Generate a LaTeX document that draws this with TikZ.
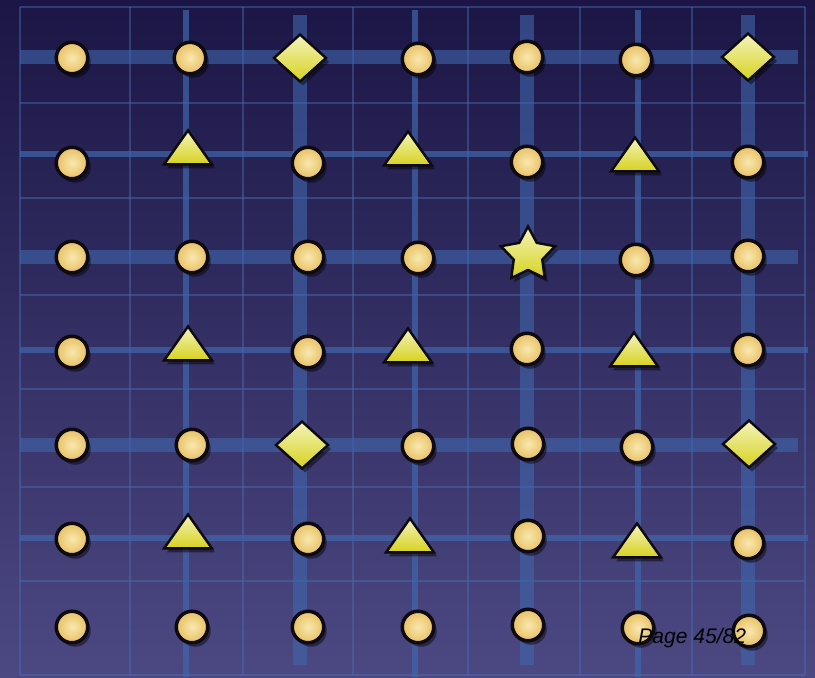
\documentclass[tikz,border=0pt]{standalone}
\usepackage{fontspec}
\newfontfamily\pagefont{Liberation Sans}
\usetikzlibrary{shapes.geometric, shadows}
\usepackage{xcolor}
\definecolor{BoardTop}{HTML}{1B1645}
\definecolor{BoardMid}{HTML}{2F2A62}
\definecolor{BoardBottom}{HTML}{4C4882}
\definecolor{GridBlue}{HTML}{4A6EB4}
\definecolor{BandBlue}{HTML}{4066AC}
\definecolor{DotLight}{HTML}{F8E8B0}
\definecolor{DotDark}{HTML}{E8C062}
\definecolor{GemLight}{HTML}{F4F4BC}
\definecolor{GemDark}{HTML}{D6D21E}
\definecolor{MarkEdge}{HTML}{0E0A10}
\tikzset{
    % Board line styles
    gridline/.style={
        draw=GridBlue,
        line width=0.7pt,
        opacity=0.45
    },
    midline/.style={
        draw=BandBlue,
        line width=0.12cm,
        opacity=0.7
    },
    bandline/.style={
        draw=BandBlue,
        line width=0.28cm,
        opacity=0.6
    },
    % Marker styles
    dotmark/.style={
        circle,
        draw=MarkEdge,
        line width=2pt,
        inner color=DotLight,
        outer color=DotDark,
        minimum size=0.63cm,
        inner sep=0pt,
        drop shadow={shadow xshift=0.06cm, shadow yshift=-0.08cm, opacity=0.45, fill=black}
    },
    gemmark/.style={
        diamond,
        draw=MarkEdge,
        line width=1.4pt,
        top color=GemLight,
        bottom color=GemDark,
        minimum width=1.06cm,
        minimum height=0.96cm,
        inner sep=0pt,
        drop shadow={shadow xshift=0.06cm, shadow yshift=-0.08cm, opacity=0.45, fill=black}
    },
    trimark/.style={
        isosceles triangle,
        shape border rotate=90,
        isosceles triangle stretches,
        draw=MarkEdge,
        line width=1.4pt,
        top color=GemLight,
        bottom color=GemDark,
        minimum width=0.96cm,
        minimum height=0.68cm,
        inner sep=0pt,
        drop shadow={shadow xshift=0.06cm, shadow yshift=-0.08cm, opacity=0.45, fill=black}
    },
    starmark/.style={
        star,
        star points=5,
        star point ratio=1.9,
        draw=MarkEdge,
        line width=1.4pt,
        top color=GemLight,
        bottom color=GemDark,
        minimum size=1.14cm,
        inner sep=0pt,
        drop shadow={shadow xshift=0.06cm, shadow yshift=-0.08cm, opacity=0.45, fill=black}
    }
}
\begin{document}
\begin{tikzpicture}[x=0.02cm, y=-0.02cm]
    \useasboundingbox (0,0) rectangle (815,677);
    \shade[top color=BoardTop, middle color=BoardMid, bottom color=BoardBottom] (0,0) rectangle (815,677);

    \draw[gridline] (20,7) -- (805,7);
    \draw[gridline] (20,103) -- (805,103);
    \draw[gridline] (20,198) -- (805,198);
    \draw[gridline] (20,295) -- (805,295);
    \draw[gridline] (20,389) -- (805,389);
    \draw[gridline] (20,487) -- (805,487);
    \draw[gridline] (20,581) -- (805,581);
    \draw[gridline] (20,675) -- (805,675);
    \draw[gridline] (20,7) -- (20,675);
    \draw[gridline] (130,7) -- (130,675);
    \draw[gridline] (243,7) -- (243,675);
    \draw[gridline] (353,7) -- (353,675);
    \draw[gridline] (468,7) -- (468,675);
    \draw[gridline] (580,7) -- (580,675);
    \draw[gridline] (692,7) -- (692,675);
    \draw[gridline] (805,7) -- (805,675);

    \draw[bandline] (20,57) -- (798,57);
    \draw[bandline] (20,257) -- (798,257);
    \draw[bandline] (20,445) -- (798,445);
    \draw[bandline] (300,15) -- (300,665);
    \draw[bandline] (527,15) -- (527,665);
    \draw[bandline] (748,15) -- (748,665);

    \draw[midline] (20,154) -- (808,154);
    \draw[midline] (20,350) -- (808,350);
    \draw[midline] (20,538) -- (808,538);
    \draw[midline] (186,10) -- (186,677);
    \draw[midline] (415,10) -- (415,677);
    \draw[midline] (638,10) -- (638,677);

    \node[dotmark] (dot11) at (72,58) {};
    \node[dotmark] (dot12) at (190,58) {};
    \node[gemmark] (gem13) at (300,58) {};
    \node[dotmark] (dot14) at (418,59) {};
    \node[dotmark] (dot15) at (527,57) {};
    \node[dotmark] (dot16) at (636,60) {};
    \node[gemmark] (gem17) at (748,57) {};

    \node[dotmark] (dot21) at (72,163) {};
    \node[trimark] (tri22) at (188,152) {};
    \node[dotmark] (dot23) at (308,163) {};
    \node[trimark] (tri24) at (408,153) {};
    \node[dotmark] (dot25) at (527,162) {};
    \node[trimark] (tri26) at (635,159) {};
    \node[dotmark] (dot27) at (748,162) {};

    \node[dotmark] (dot31) at (72,257) {};
    \node[dotmark] (dot32) at (192,257) {};
    \node[dotmark] (dot33) at (308,257) {};
    \node[dotmark] (dot34) at (418,258) {};
    \node[starmark] (star35) at (528,255) {};
    \node[dotmark] (dot36) at (636,260) {};
    \node[dotmark] (dot37) at (748,256) {};

    \node[dotmark] (dot41) at (72,352) {};
    \node[trimark] (tri42) at (188,348) {};
    \node[dotmark] (dot43) at (308,352) {};
    \node[trimark] (tri44) at (408,350) {};
    \node[dotmark] (dot45) at (527,349) {};
    \node[trimark] (tri46) at (634,354) {};
    \node[dotmark] (dot47) at (748,350) {};

    \node[dotmark] (dot51) at (72,445) {};
    \node[dotmark] (dot52) at (192,445) {};
    \node[gemmark] (gem53) at (302,445) {};
    \node[dotmark] (dot54) at (418,446) {};
    \node[dotmark] (dot55) at (528,444) {};
    \node[dotmark] (dot56) at (637,447) {};
    \node[gemmark] (gem57) at (749,444) {};

    \node[dotmark] (dot61) at (72,539) {};
    \node[trimark] (tri62) at (188,536) {};
    \node[dotmark] (dot63) at (308,539) {};
    \node[trimark] (tri64) at (410,540) {};
    \node[dotmark] (dot65) at (528,536) {};
    \node[trimark] (tri66) at (637,545) {};
    \node[dotmark] (dot67) at (748,543) {};

    \node[dotmark] (dot71) at (72,627) {};
    \node[dotmark] (dot72) at (192,627) {};
    \node[dotmark] (dot73) at (308,627) {};
    \node[dotmark] (dot74) at (418,627) {};
    \node[dotmark] (dot75) at (528,625) {};
    \node[dotmark] (dot76) at (638,628) {};
    \node[dotmark] (dot77) at (749,631) {};

    \node[anchor=base west, inner sep=0pt, font=\pagefont\itshape\fontsize{12}{14}\selectfont] (pagenum) at (638,643) {Page 45/82};
\end{tikzpicture}
\end{document}
